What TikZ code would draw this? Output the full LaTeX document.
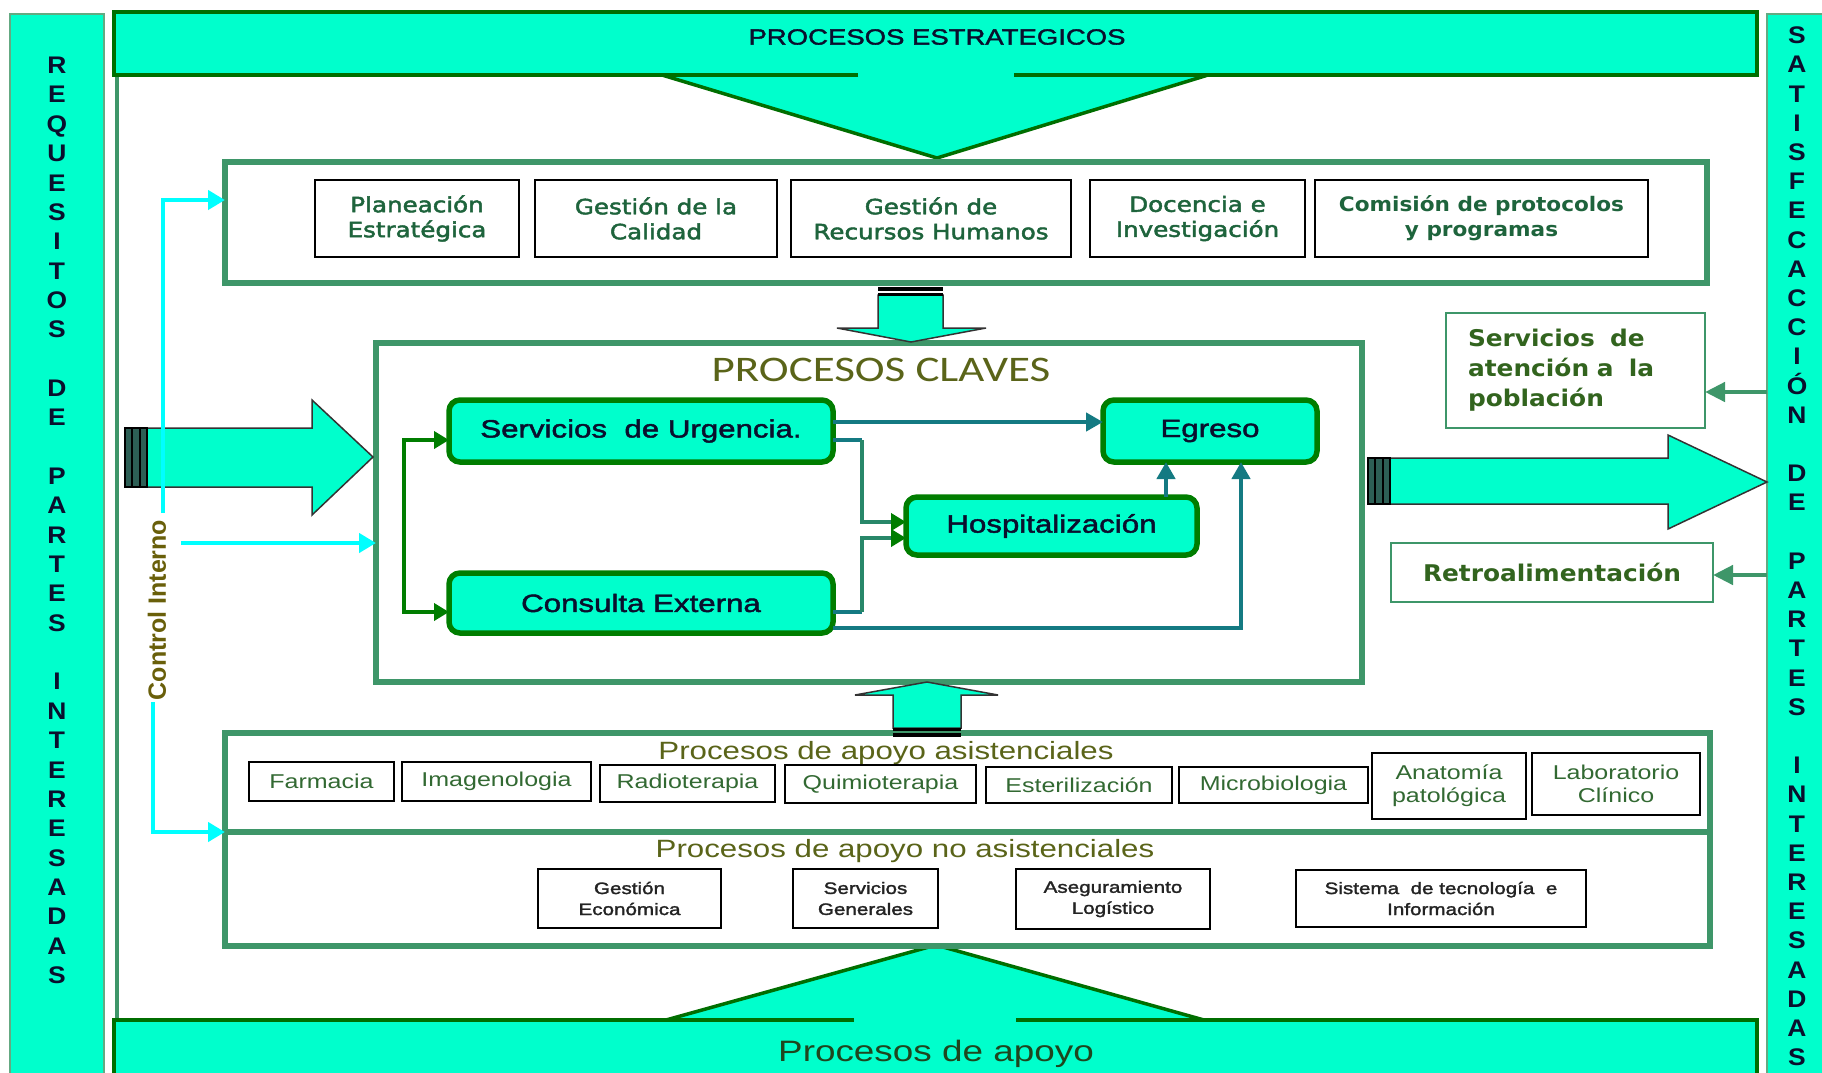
\documentclass[tikz,border=0pt]{standalone}
\usepackage{fontspec}
\setmainfont{Liberation Sans}
\newfontfamily\fArial[FakeStretch=1.25]{Liberation Sans}
\newfontfamily\fArialK[FakeStretch=1.25,FakeBold=1.8]{Liberation Sans}
\newfontfamily\fSide[FakeStretch=1.1]{Liberation Sans}
\newfontfamily\fVerd[FakeStretch=1.08]{DejaVu Sans}
\newfontfamily\fVerdW[FakeStretch=1.17,FakeBold=2.2]{DejaVu Sans}
\newfontfamily\fCal[FakeStretch=1.25]{Carlito}
\usetikzlibrary{arrows.meta}
\definecolor{aqua}{RGB}{0,255,204}
\definecolor{bnrgreen}{RGB}{0,110,0}
\definecolor{frgreen}{RGB}{62,150,105}
\definecolor{dkgreen}{RGB}{0,125,0}
\definecolor{tealc}{RGB}{20,122,130}
\definecolor{midgreen}{RGB}{40,135,105}
\definecolor{cyanc}{RGB}{0,255,255}
\definecolor{sidebd}{RGB}{100,170,130}
\definecolor{txtg}{RGB}{30,100,60}
\definecolor{txtol}{RGB}{90,100,25}
\definecolor{txtsat}{RGB}{50,100,30}
\definecolor{txtsm}{RGB}{50,105,50}
\definecolor{ctrlc}{RGB}{105,95,10}
\definecolor{navy}{RGB}{10,15,45}
\definecolor{stripe}{RGB}{45,95,85}
\definecolor{grayt}{RGB}{35,35,35}
\definecolor{bottxt}{RGB}{30,70,30}
\begin{document}
\begin{tikzpicture}[x=1pt,y=-1pt,
  every node/.style={inner sep=0pt, outer sep=0pt},
  frm/.style={draw=frgreen, line width=6pt},
  sbox/.style={draw=black, line width=2.2pt, fill=white, align=center, text=txtg, font=\fVerdW\fontsize{21}{25}\selectfont},
  kbox/.style={draw=dkgreen, line width=5.5pt, fill=aqua, rounded corners=11pt, text=navy, font=\fArialK\fontsize{25}{28}\selectfont},
  abox/.style={draw=black, line width=2pt, fill=white, align=center, text=txtsm, font=\fArial\fontsize{20}{23}\selectfont},
  nbox/.style={draw=black, line width=2pt, fill=white, align=center, text=grayt, font=\fArialK\fontsize{16.5}{21}\selectfont},
  obox/.style={draw=frgreen, line width=2pt, fill=white, text=txtsat},
  hdr/.style={font=\fArial\fontsize{25}{25}\selectfont, text=txtol, anchor=base},
  cyanarr/.style={draw=cyanc, line width=4.5pt, -{Triangle[length=17pt,width=19pt]}},
  grnarr/.style={draw=dkgreen, line width=4.5pt, -{Triangle[length=15pt,width=17pt]}},
  tealarr/.style={draw=tealc, line width=4.5pt, -{Triangle[length=17pt,width=18pt]}},
  mixarr/.style={draw=midgreen, line width=4.5pt, -{Triangle[length=15pt,width=17pt,color=dkgreen]}},
  rgarr/.style={draw=frgreen, line width=4.5pt, -{Triangle[length=20pt,width=19pt]}},
  bigarr/.style={fill=aqua, draw=black!80, line width=1.5pt, line join=miter},
  bnr/.style={draw=bnrgreen, line width=3.5pt},
  side/.style={fill=aqua, draw=sidebd, line width=2pt},
  sidelet/.style={font=\fSide\bfseries\fontsize{24}{24}\selectfont, text=navy, anchor=base},
]
\useasboundingbox (0,0) rectangle (1822,1072);
\fill[white] (0,0) rectangle (1822,1072);

% side bars
\draw[side] (10,14) rectangle (104,1085);
\draw[side] (1767,14) rectangle (1835,1085);
\foreach \l [count=\i from 0] in {R,E,Q,U,E,S,I,T,O,S,{},D,E,{},P,A,R,T,E,S,{},I,N,T,E,R,E,S,A,D,A,S}
  \node[sidelet] (lq\i) at (57,65+29.35*\i+8.6) {\l};
\foreach \l [count=\i from 0] in {S,A,T,I,S,F,E,C,A,C,C,I,Ó,N,{},D,E,{},P,A,R,T,E,S,{},I,N,T,E,R,E,S,A,D,A,S}
  \node[sidelet] (rq\i) at (1797,35+29.2*\i+8.6) {\l};

% outer frame line
\draw[frgreen, line width=4pt] (117,75) -- (117,1020);

% top banner
\fill[aqua] (114,12) rectangle (1757,75);
\fill[aqua] (662,74) -- (937,158) -- (1208,74) -- cycle;
\draw[bnr] (858,75) -- (114,75) -- (114,12) -- (1757,12) -- (1757,75) -- (1014,75);
\draw[bnr, line join=miter] (662,75) -- (937,158) -- (1208,75);
\node[font=\fArialK\fontsize{22}{22}\selectfont, text=navy] (tstrat) at (937,37) {PROCESOS ESTRATEGICOS};

% bottom banner
\fill[aqua] (114,1020) rectangle (1757,1085);
\fill[aqua] (666,1021) -- (936,945) -- (1204,1021) -- cycle;
\draw[bnr] (854,1020) -- (114,1020) -- (114,1085);
\draw[bnr] (1016,1020) -- (1757,1020) -- (1757,1085);
\draw[bnr, line join=miter] (666,1020) -- (936,945) -- (1204,1020);
\node[font=\fArial\fontsize{29.5}{30}\selectfont, text=bottxt, anchor=base] (tapoyo) at (936,1061) {Procesos de apoyo};

% frames
\node[frm, minimum width=1482pt, minimum height=121pt] (sf) at (966,222.5) {};
\node[frm, minimum width=986pt, minimum height=339pt] (kf) at (869,512.5) {};
\node[frm, minimum width=1485pt, minimum height=213pt] (spf) at (967.5,839.5) {};
\coordinate (divy) at (500,832);
\draw[frgreen, line width=6pt] (spf.west |- divy) -- (spf.east |- divy);

% strategic boxes
\node[sbox, minimum width=204pt, minimum height=77pt] (plan) at (417,218.5) {Planeación\\Estratégica};
\node[sbox, minimum width=242pt, minimum height=77pt] (cal) at (656,218.5) {Gestión de la\\Calidad};
\node[sbox, minimum width=280pt, minimum height=77pt] (rrhh) at (931,218.5) {Gestión de\\Recursos Humanos};
\node[sbox, minimum width=215pt, minimum height=77pt] (doc) at (1197.5,218.5) {Docencia e\\Investigación};
\node[sbox, minimum width=333pt, minimum height=77pt, font=\fVerd\bfseries\fontsize{20}{25}\selectfont] (com) at (1481.5,218.5) {Comisión de protocolos\\y programas};

% small down arrow
\draw[bigarr] (878,295) -- (943,295) -- (943,328) -- (986,328) -- (911,342) -- (837,328) -- (878,328) -- cycle;
\fill[black] (878,287) rectangle (943,290.5);
\fill[black] (878,292.5) rectangle (943,295.5);

% claves
\node[font=\fCal\fontsize{36}{36}\selectfont, text=txtol] (tclaves) at (881,370) {PROCESOS CLAVES};
\node[kbox, minimum width=384pt, minimum height=62pt] (urg) at (641,431) {Servicios\ \ de Urgencia.};
\node[kbox, minimum width=214pt, minimum height=62pt] (egr) at (1210,431) {Egreso};
\node[kbox, minimum width=291pt, minimum height=58pt] (hosp) at (1051.5,526) {Hospitalización};
\node[kbox, minimum width=384pt, minimum height=60pt] (cons) at (641,603) {Consulta Externa};

% green bracket
\coordinate (g1) at (404,440);
\coordinate (g2) at (404,612);
\coordinate (gm) at (404,526);
\draw[grnarr] (gm) -- (g1) -- (g1 -| urg.west);
\draw[grnarr] (gm) -- (g2) -- (g2 -| cons.west);

% internal connectors
\coordinate (ue) at (0,422);
\draw[tealarr] (urg.east |- ue) -- (egr.west |- ue);
\coordinate (uh1) at (0,440);
\coordinate (uh2) at (862,440);
\coordinate (uh3) at (862,522);
\draw[tealc, line width=4.5pt] (urg.east |- uh1) -- (uh2);
\draw[mixarr] (uh2) -- (uh3) -- (uh3 -| hosp.west);
\coordinate (ch1) at (0,612);
\coordinate (ch2) at (862,612);
\coordinate (ch3) at (862,538);
\draw[tealc, line width=4.5pt] (cons.east |- ch1) -- (ch2);
\draw[mixarr] (ch2) -- (ch3) -- (ch3 -| hosp.west);
\coordinate (he) at (1166,0);
\draw[tealarr] (hosp.north -| he) -- (egr.south -| he);
\coordinate (ce1) at (0,628);
\coordinate (ce2) at (1241,628);
\draw[tealarr] (cons.east |- ce1) -- (ce2) -- (egr.south -| ce2);

% big input arrow
\draw[bigarr] (147,428) -- (312,428) -- (312,400) -- (373,457) -- (312,515) -- (312,487) -- (147,487) -- cycle;
\fill[stripe] (125,428) rectangle (147,487);
\draw[black, line width=1.3pt] (125,428) rectangle (147,487) (132,428) -- (132,487) (140,428) -- (140,487);

% big output arrow
\draw[bigarr] (1390,458) -- (1668,458) -- (1668,435) -- (1767,482) -- (1668,529) -- (1668,504) -- (1390,504) -- cycle;
\fill[stripe] (1368,458) rectangle (1390,504);
\draw[black, line width=1.3pt] (1368,458) rectangle (1390,504) (1375,458) -- (1375,504) (1383,458) -- (1383,504);

% up arrow
\draw[bigarr] (893,728) -- (961,728) -- (961,695) -- (998,695) -- (927,682) -- (855,695) -- (893,695) -- cycle;
\fill[black] (893,727.5) rectangle (961,731);
\fill[black] (893,733) rectangle (961,736.5);

% control interno (cyan)
\coordinate (ci1) at (163,513);
\coordinate (cup) at (163,200);
\draw[cyanarr] (ci1) -- (cup) -- (cup -| sf.west);
\coordinate (cmid) at (181,543);
\draw[cyanarr] (cmid) -- (cmid -| kf.west);
\coordinate (clo) at (153,702);
\coordinate (clo2) at (153,832);
\draw[cyanarr] (clo) -- (clo2) -- (clo2 -| spf.west);
\node[rotate=90, font=\bfseries\fontsize{25}{25}\selectfont, text=ctrlc] (ctrl) at (157,610) {Control Interno};

% right side boxes
\node[obox, minimum width=259pt, minimum height=115pt, text width=215pt, align=left, font=\fVerd\bfseries\fontsize{23}{30}\selectfont] (sat) at (1575.5,370.5) {Servicios\ \ de\\atención a\ \ la\\población};
\node[obox, minimum width=322pt, minimum height=59pt, font=\fVerd\bfseries\fontsize{23}{26}\selectfont] (retro) at (1552,572.5) {Retroalimentación};
\coordinate (rb1) at (1767,392);
\draw[rgarr] (rb1) -- (rb1 -| sat.east);
\coordinate (rb2) at (1767,575);
\draw[rgarr] (rb2) -- (rb2 -| retro.east);

% support processes
\node[hdr] (hasis) at (886,759) {Procesos de apoyo asistenciales};
\node[hdr] (hnoasis) at (905,857) {Procesos de apoyo no asistenciales};
\node[abox, minimum width=145pt, minimum height=39pt] (farm) at (321.5,781.5) {Farmacia};
\node[abox, minimum width=189pt, minimum height=39pt] (imag) at (496.5,781.5) {Imagenologia};
\node[abox, minimum width=175pt, minimum height=37pt] (radio) at (687.5,783.5) {Radioterapia};
\node[abox, minimum width=191pt, minimum height=38pt] (quim) at (880.5,784) {Quimioterapia};
\node[abox, minimum width=186pt, minimum height=36pt] (ester) at (1079,785) {Esterilización};
\node[abox, minimum width=189pt, minimum height=36pt] (micro) at (1273.5,785) {Microbiologia};
\node[abox, minimum width=154pt, minimum height=66pt] (anat) at (1449,786) {Anatomía\\patológica};
\node[abox, minimum width=168pt, minimum height=62pt] (lab) at (1616,784) {Laboratorio\\Clínico};

\node[nbox, minimum width=183pt, minimum height=59pt] (gest) at (629.5,898.5) {Gestión\\Económica};
\node[nbox, minimum width=145pt, minimum height=59pt] (servg) at (865.5,898.5) {Servicios\\Generales};
\node[nbox, minimum width=194pt, minimum height=60pt] (aseg) at (1113,899) {Aseguramiento\\Logístico};
\node[nbox, minimum width=290pt, minimum height=57pt] (sist) at (1441,898.5) {Sistema\ \ de tecnología\ \ e\\Información};
\end{tikzpicture}
\end{document}
